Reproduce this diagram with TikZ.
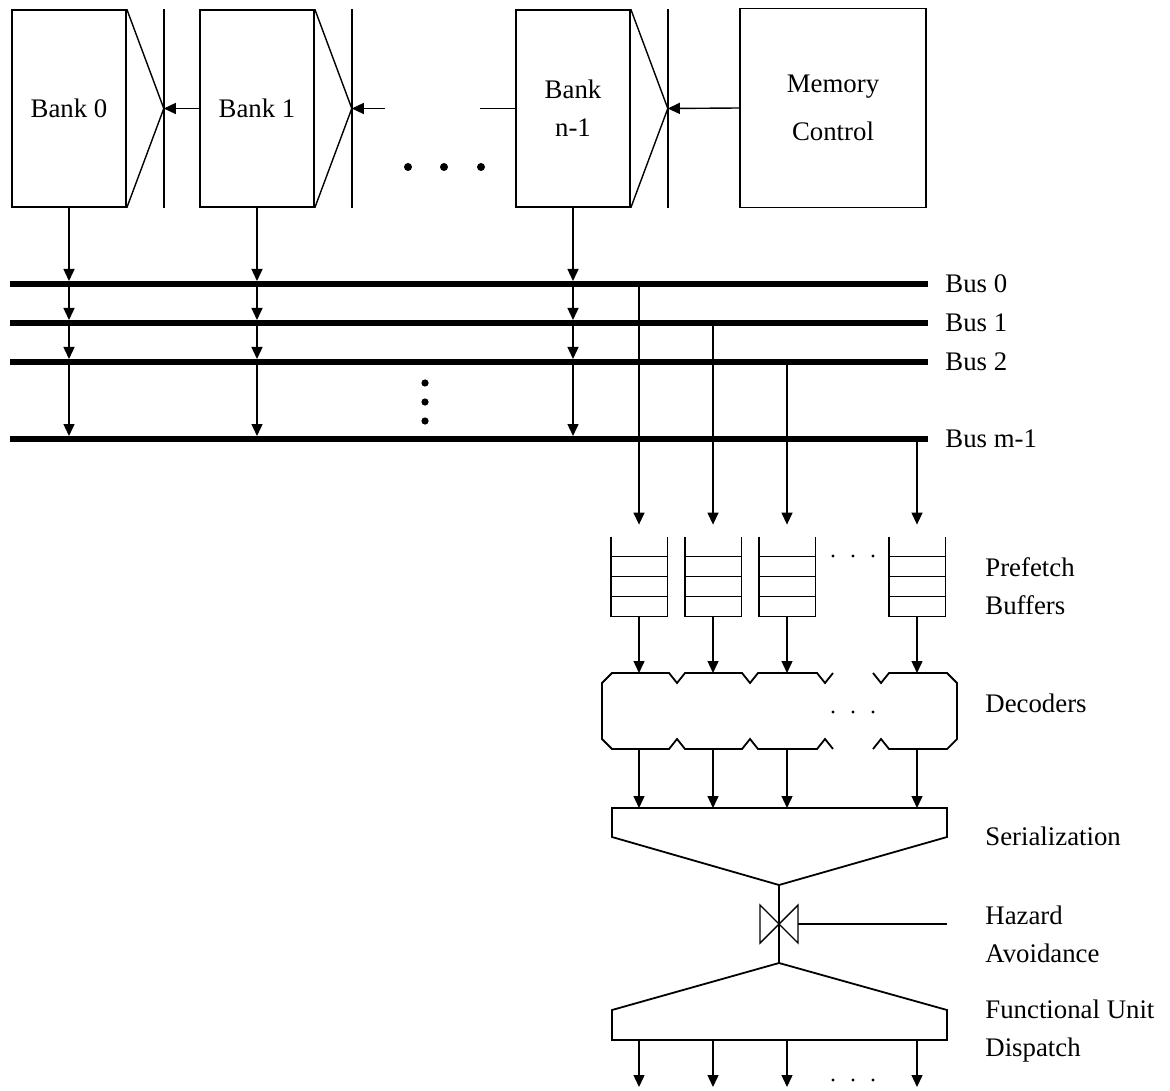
\documentclass[tikz,border=0pt]{standalone}
\usepackage{fontspec}
\setmainfont{Liberation Serif}
\usetikzlibrary{arrows.meta,positioning,calc}

\begin{document}
\begin{tikzpicture}[
  x=0.5pt,y=-0.5pt,
  every node/.style={font=\fontsize{13.4}{19}\selectfont,align=center,inner sep=0pt},
  bank/.style={draw,line width=0.8pt,minimum width=57pt,minimum height=98.5pt},
  ctrl/.style={draw,line width=0.8pt,minimum width=93pt,minimum height=99.5pt},
  mux/.style={line width=0.7pt},
  arr/.style={line width=0.7pt,-{Triangle[width=5.5pt,length=6pt]}},
  busline/.style={line width=3pt},
  lbl/.style={anchor=west,align=left},
  bufbox/.style={minimum width=28pt,minimum height=39.5pt},
  outline/.style={line width=0.9pt,line join=miter}
]
\useasboundingbox (0,0) rectangle (1170,1090);

% memory banks
\node[bank] (bank0) at (69,108.5) {Bank 0};
\node[bank] (bank1) at (257,108.5) {Bank 1};
\node[bank] (bankn) at (573,108.5) {Bank\\n-1};
\node[ctrl] (memctrl) at (833,108) {Memory\\[5pt]Control};

% output muxes
\foreach \b in {bank0,bank1,bankn}{
  \coordinate (\b tip) at ($(\b.east)+(37,0)$);
  \draw[mux] (\b.north east) -- (\b tip) -- (\b.south east);
  \draw[mux] (\b tip |- \b.north) -- (\b tip |- \b.south);
}
\coordinate (in1) at (385,108.5);
\coordinate (outn) at (480,108.5);
\draw[arr] (bank1.west) -- (bank0tip);
\draw[arr] (in1) -- (bank1tip);
\draw[mux] (outn) -- (bankn.west);
\draw[arr] (memctrl.west) -- (bankntip);
\foreach \x in {408,444,481} \fill (\x,167) circle[radius=2pt];

% buses
\node[lbl] (bus0lbl) at (945,284) {Bus 0};
\node[lbl] (bus1lbl) at (945,323) {Bus 1};
\node[lbl] (bus2lbl) at (945,362) {Bus 2};
\node[lbl] (bus3lbl) at (945,439) {Bus m-1};
\coordinate (bus0) at (10,284);
\coordinate (bus1) at (10,323);
\coordinate (bus2) at (10,362);
\coordinate (bus3) at (10,439);

\foreach \b in {bank0,bank1,bankn}{
  \draw[arr,shorten >=1.5pt] (\b.south) -- (\b.south |- bus0);
  \draw[arr,shorten >=1.5pt] (\b.south |- bus0) -- (\b.south |- bus1);
  \draw[arr,shorten >=1.5pt] (\b.south |- bus1) -- (\b.south |- bus2);
  \draw[arr,shorten >=1.5pt] (\b.south |- bus2) -- (\b.south |- bus3);
}
\foreach \i in {0,...,3}
  \draw[busline] (bus\i) -- ([xshift=-8.5pt]bus\i lbl.west);
\foreach \y in {383,402,421} \fill (425,\y) circle[radius=1.8pt];

% prefetch buffers
\foreach \c/\x in {1/639,2/713,3/787,4/917}{
  \node[bufbox] (buf\c) at (\x,576.5) {};
  \draw[outline] (buf\c.north west) -- (buf\c.south west) -- (buf\c.south east) -- (buf\c.north east);
  \foreach \r in {0.25,0.5,0.75}
    \draw[outline] ($(buf\c.south west)!\r!(buf\c.north west)$) -- ($(buf\c.south east)!\r!(buf\c.north east)$);
}
\draw[arr,shorten >=6pt] (buf1.north |- bus0) -- (buf1.north);
\draw[arr,shorten >=6pt] (buf2.north |- bus1) -- (buf2.north);
\draw[arr,shorten >=6pt] (buf3.north |- bus2) -- (buf3.north);
\draw[arr,shorten >=6pt] (buf4.north |- bus3) -- (buf4.north);
\foreach \x in {833,853,873} \fill (\x,556) circle[radius=0.8pt];
\node[lbl] (buflbl) at (985,586) {Prefetch\\Buffers};

% decoders
\coordinate (dectop) at (779,673);
\coordinate (decbot) at (779,749);
\draw[outline] (833,673) -- (825,683) -- (817,673) -- (758,673) -- (750,683) -- (742,673)
  -- (685,673) -- (677,683) -- (669,673) -- (612,673) -- (602,683) -- (602,739) -- (612,749)
  -- (669,749) -- (677,739) -- (685,749) -- (742,749) -- (750,739) -- (758,749)
  -- (817,749) -- (825,739) -- (833,749);
\draw[outline] (873,673) -- (881,683) -- (889,673) -- (947,673) -- (957,683) -- (957,739)
  -- (947,749) -- (889,749) -- (881,739) -- (873,749);
\foreach \x in {833,853,873} \fill (\x,712) circle[radius=0.8pt];
\node[lbl] (declbl) at (985,703) {Decoders};

% serialization
\coordinate (sertop) at (779,808);
\coordinate (serapex) at (779,885);
\draw[outline] (612,837) -- (612,808) -- (947,808) -- (947,837) -- (serapex) -- cycle;
\foreach \c in {1,...,4}{
  \draw[arr] (buf\c.south) -- (buf\c.south |- dectop);
  \draw[arr] (buf\c.south |- decbot) -- (buf\c.south |- sertop);
}
\node[lbl] (serlbl) at (985,836) {Serialization};

% hazard avoidance
\coordinate (haz) at (779,924);
\coordinate (dispapex) at (779,963);
\coordinate (hazin) at (947,924);
\draw[mux] (serapex) -- (dispapex);
\draw[mux] (haz) -- (760,905) -- (760,943) -- cycle;
\draw[mux] (haz) -- (798,905) -- (798,943) -- cycle;
\draw[mux] (798,924) -- (hazin);
\node[lbl] (hazlbl) at (985,934) {Hazard\\Avoidance};

% functional unit dispatch
\coordinate (dispbot) at (779,1040);
\coordinate (unitin) at (779,1087);
\draw[outline] (dispapex) -- (947,1010) -- (947,1040) -- (612,1040) -- (612,1010) -- cycle;
\foreach \c in {1,...,4}
  \draw[arr] (buf\c.south |- dispbot) -- (buf\c.south |- unitin);
\foreach \x in {833,853,873} \fill (\x,1080) circle[radius=0.8pt];
\node[lbl] (displbl) at (985,1031) {Functional Unit\\Dispatch};
\end{tikzpicture}
\end{document}
